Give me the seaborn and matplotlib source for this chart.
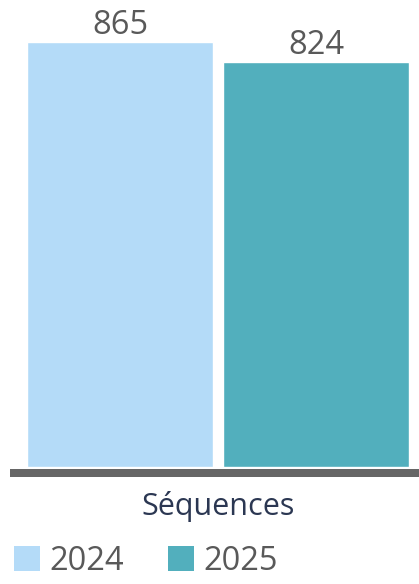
import matplotlib
matplotlib.use("Agg")
import matplotlib.pyplot as plt
import seaborn as sns
import pandas as pd
from matplotlib.patches import Patch

categories = ["Séquences"]
years = ["2024", "2025"]
values = [865, 824]
colors = ["#b4dbf8", "#52afbd"]

df = pd.DataFrame({"cat": categories * len(years), "year": years, "val": values})

sns.set_theme(style="white")
plt.rcParams["font.family"] = ["Open Sans", "DejaVu Sans"]

W, H = 419, 584
fig = plt.figure(figsize=(W / 100, H / 100), dpi=100)
ax_left, ax_right, ax_top_px, ax_bot_px = 10, 419, 10, 467
ax = fig.add_axes([ax_left / W, (H - ax_bot_px) / H, (ax_right - ax_left) / W, (ax_bot_px - ax_top_px) / H])

sns.barplot(data=df, x="cat", y="val", hue="year", palette=colors, width=0.98, gap=0.051,
            ax=ax, legend=False, saturation=1)

px_per_unit = 400.0
center_off = (218 - ax_left) / px_per_unit
ax.set_xlim(-center_off, -center_off + (ax_right - ax_left) / px_per_unit)
scale = 425.0 / 865.0
ax.set_ylim(0, (ax_bot_px - ax_top_px) / scale)

for c in ax.containers:
    ax.bar_label(c, fmt="%d", padding=0, fontsize=23.5, color="#595959")

for s in ax.spines.values():
    s.set_visible(False)
ax.set_yticks([])
ax.set_ylabel("")
ax.set_xlabel("")
ax.tick_params(axis="x", length=0, pad=17, labelsize=22, labelcolor="#2b3752")

ax.axhline(-6 / scale, color="#666666", linewidth=8 * 0.72, clip_on=False, xmin=0, xmax=1,
           solid_capstyle="butt")

handles = [Patch(facecolor=col, edgecolor="none", label=y) for col, y in zip(colors, years)]
fig.legend(handles=handles, loc="upper left", bbox_to_anchor=(14 / W, 1 - 545 / H), ncol=2, frameon=False,
           fontsize=23.5, labelcolor="#595959", handlelength=0.81, handleheight=0.78, handletextpad=0.28,
           columnspacing=1.34, borderpad=0, borderaxespad=0)

fig.savefig("out.png", dpi=100)
